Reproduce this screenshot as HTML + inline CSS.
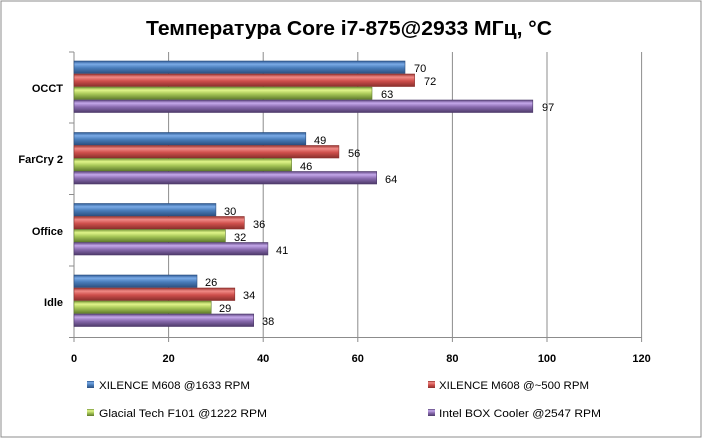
<!DOCTYPE html>
<html><head><meta charset="utf-8"><style>
html,body{margin:0;padding:0;background:#fff;}
svg{display:block;font-family:"Liberation Sans",sans-serif;}
</style></head><body>
<svg width="703" height="439" viewBox="0 0 703 439" xmlns="http://www.w3.org/2000/svg">
<defs>
<linearGradient id="gb" x1="0" y1="0" x2="0" y2="1"><stop offset="0" stop-color="#2d5a94"/><stop offset="0.25" stop-color="#7aaae6"/><stop offset="0.55" stop-color="#4a7ebb"/><stop offset="1" stop-color="#2c4f7f"/></linearGradient>
<linearGradient id="gr" x1="0" y1="0" x2="0" y2="1"><stop offset="0" stop-color="#9a3431"/><stop offset="0.25" stop-color="#f08a86"/><stop offset="0.55" stop-color="#d0504d"/><stop offset="1" stop-color="#8a2f2c"/></linearGradient>
<linearGradient id="gg" x1="0" y1="0" x2="0" y2="1"><stop offset="0" stop-color="#7a9a3a"/><stop offset="0.25" stop-color="#e0f58a"/><stop offset="0.55" stop-color="#a8c858"/><stop offset="1" stop-color="#5f7a2c"/></linearGradient>
<linearGradient id="gp" x1="0" y1="0" x2="0" y2="1"><stop offset="0" stop-color="#5e4680"/><stop offset="0.25" stop-color="#c4a8ea"/><stop offset="0.55" stop-color="#8a6cb0"/><stop offset="1" stop-color="#4d3a6a"/></linearGradient>
</defs>
<rect x="1" y="1" width="700" height="436" fill="#fff" stroke="#8c8c8c" stroke-width="1"/>
<text x="349" y="35" font-size="20" font-weight="bold" text-anchor="middle" textLength="406" lengthAdjust="spacingAndGlyphs" fill="#000">Температура Core i7-875@2933 МГц, °C</text>
<g stroke="#8c8c8c" stroke-width="1">
<line x1="168.6" y1="52" x2="168.6" y2="342"/><line x1="263.2" y1="52" x2="263.2" y2="342"/><line x1="357.8" y1="52" x2="357.8" y2="342"/><line x1="452.4" y1="52" x2="452.4" y2="342"/><line x1="547" y1="52" x2="547" y2="342"/><line x1="641.6" y1="52" x2="641.6" y2="342"/>
<line x1="74" y1="52" x2="74" y2="342"/><line x1="74" y1="337.5" x2="642" y2="337.5"/>
<line x1="69" y1="52" x2="74" y2="52"/><line x1="69" y1="123" x2="74" y2="123"/><line x1="69" y1="194.5" x2="74" y2="194.5"/><line x1="69" y1="266" x2="74" y2="266"/><line x1="69" y1="337.5" x2="74" y2="337.5"/>
</g>
<g font-size="11" font-weight="bold" text-anchor="end" fill="#000">
<text x="63" y="92">OCCT</text><text x="63" y="163">FarCry 2</text><text x="63" y="235">Office</text><text x="63" y="306">Idle</text>
</g>
<g font-size="11" font-weight="bold" text-anchor="middle" fill="#000">
<text x="74" y="362">0</text><text x="168.6" y="362">20</text><text x="263.2" y="362">40</text><text x="357.8" y="362">60</text><text x="452.4" y="362">80</text><text x="547" y="362">100</text><text x="641.6" y="362">120</text>
</g>
<g stroke-width="0.6">
<!-- OCCT -->
<rect x="74" y="61" width="331" height="12.5" fill="url(#gb)" stroke="#2c4f7f"/>
<rect x="74" y="74" width="340.6" height="12.5" fill="url(#gr)" stroke="#8a2f2c"/>
<rect x="74" y="87" width="298" height="12.5" fill="url(#gg)" stroke="#5f7a2c"/>
<rect x="74" y="100" width="458.8" height="12.5" fill="url(#gp)" stroke="#4d3a6a"/>
<!-- FarCry -->
<rect x="74" y="132.5" width="231.8" height="12.5" fill="url(#gb)" stroke="#2c4f7f"/>
<rect x="74" y="145.5" width="264.9" height="12.5" fill="url(#gr)" stroke="#8a2f2c"/>
<rect x="74" y="158.5" width="217.6" height="12.5" fill="url(#gg)" stroke="#5f7a2c"/>
<rect x="74" y="171.5" width="302.7" height="12.5" fill="url(#gp)" stroke="#4d3a6a"/>
<!-- Office -->
<rect x="74" y="203.5" width="141.9" height="12.5" fill="url(#gb)" stroke="#2c4f7f"/>
<rect x="74" y="216.5" width="170.3" height="12.5" fill="url(#gr)" stroke="#8a2f2c"/>
<rect x="74" y="229.5" width="151.4" height="12.5" fill="url(#gg)" stroke="#5f7a2c"/>
<rect x="74" y="242.5" width="193.9" height="12.5" fill="url(#gp)" stroke="#4d3a6a"/>
<!-- Idle -->
<rect x="74" y="275" width="123" height="12.5" fill="url(#gb)" stroke="#2c4f7f"/>
<rect x="74" y="288" width="160.8" height="12.5" fill="url(#gr)" stroke="#8a2f2c"/>
<rect x="74" y="301" width="137.2" height="12.5" fill="url(#gg)" stroke="#5f7a2c"/>
<rect x="74" y="314" width="179.7" height="12.5" fill="url(#gp)" stroke="#4d3a6a"/>
</g>
<g font-size="11" fill="#000">
<text x="414" y="72">70</text><text x="424" y="85">72</text><text x="381" y="98">63</text><text x="542" y="111">97</text>
<text x="314" y="144">49</text><text x="348" y="157">56</text><text x="300" y="170">46</text><text x="385" y="183">64</text>
<text x="224" y="215">30</text><text x="253" y="228">36</text><text x="234" y="241">32</text><text x="276" y="254">41</text>
<text x="205" y="286">26</text><text x="243" y="299">34</text><text x="219" y="312">29</text><text x="262" y="325">38</text>
</g>
<rect x="87" y="381" width="7" height="7" fill="url(#gb)"/>
<rect x="428" y="381" width="7" height="7" fill="url(#gr)"/>
<rect x="87" y="409" width="7" height="7" fill="url(#gg)"/>
<rect x="428" y="409" width="7" height="7" fill="url(#gp)"/>
<g font-size="11" fill="#000">
<text x="99" y="389" textLength="151" lengthAdjust="spacingAndGlyphs">XILENCE M608  @1633 RPM</text>
<text x="439" y="389" textLength="150" lengthAdjust="spacingAndGlyphs">XILENCE M608  @~500 RPM</text>
<text x="99" y="417" textLength="168" lengthAdjust="spacingAndGlyphs">Glacial  Tech  F101  @1222 RPM</text>
<text x="439" y="417" textLength="162" lengthAdjust="spacingAndGlyphs">Intel BOX Cooler  @2547 RPM</text>
</g>
</svg>
</body></html>
